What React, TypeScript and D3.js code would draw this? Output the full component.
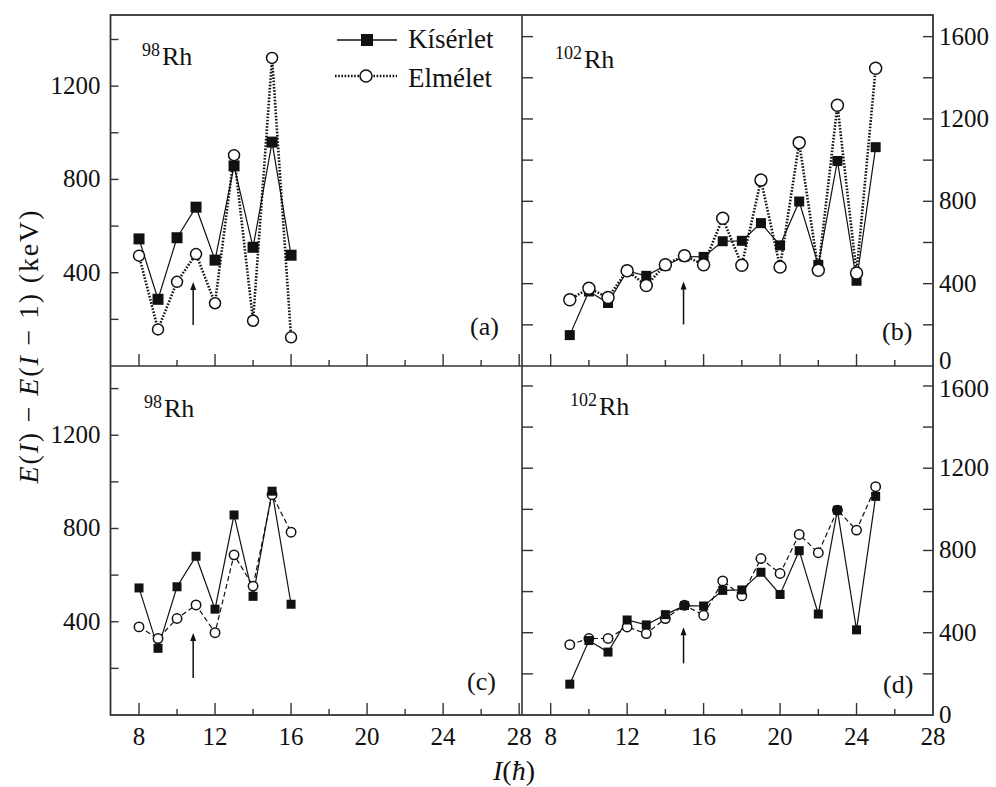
import React from "react";
import * as d3 from "d3";

// ---------- data ----------
const spins98 = [8, 9, 10, 11, 12, 13, 14, 15, 16];
const spins102 = [9, 10, 11, 12, 13, 14, 15, 16, 17, 18, 19, 20, 21, 22, 23, 24, 25];

const exp98 = [545, 286, 550, 681, 454, 858, 509, 960, 475];
const theoryA98 = [473, 157, 361, 480, 269, 904, 194, 1321, 123];
const theoryC98 = [378, 328, 414, 472, 353, 687, 553, 945, 784];

const exp102 = [150, 362, 306, 462, 438, 488, 532, 530, 606, 608, 694, 586, 799, 491, 996, 414, 1063];
const theoryB102 = [322, 378, 333, 463, 391, 492, 536, 492, 718, 489, 903, 481, 1085, 465, 1267, 452, 1446];
const theoryD102 = [342, 372, 372, 428, 396, 469, 534, 485, 652, 579, 761, 688, 878, 789, 996, 899, 1110];

const xTicksMajor = [8, 12, 16, 20, 24, 28];
const xTicksMinor = [10, 14, 18, 22, 26];
const yTicksLeft = [200, 400, 600, 800, 1000, 1200, 1400];
const yLabelsLeft = [400, 800, 1200];
const yTicksRight = [200, 400, 600, 800, 1000, 1200, 1400, 1600];
const yLabelsRight = [0, 400, 800, 1200, 1600];

const legendLabels = ["Kísérlet", "Elmélet"];

// arrows: [spin, from, to]
const arrowA = [10.85, 176, 360];
const arrowB = [14.95, 202, 411];
const arrowC = [10.85, 159, 352];
const arrowD = [14.95, 251, 427];

const FONT = "Liberation Serif";
const INK = "#111";
const FRAME = "#333";
const fs = (size: number) => ({ fontFamily: FONT, fontSize: size + "px" });

type PanelProps = {
  x0: number; x1: number; y0: number; y1: number;
  xDomain: [number, number]; yDomain: [number, number];
  spins: number[]; exp: number[]; theory: number[];
  top: boolean; side: "left" | "right";
  sq: number; cr: number;
  nucleus: string; nx: number; ny: number;
  letter: string; lx: number; ly: number;
  arrow: number[];
  showXLabels: boolean;
};

function Panel(p: PanelProps) {
  const x = d3.scaleLinear().domain(p.xDomain).range([p.x0, p.x1]);
  const y = d3.scaleLinear().domain(p.yDomain).range([p.y1, p.y0]);
  const line = d3.line<number>().x((_, i) => x(p.spins[i])).y((v) => y(v));
  const expPath = line(p.exp) || "";
  const thPath = line(p.theory) || "";
  const yTicks = p.side === "left" ? yTicksLeft : yTicksRight;
  const yLabels = p.side === "left" ? yLabelsLeft : yLabelsRight;
  const ax = x(p.arrow[0]);
  const ayFrom = y(p.arrow[1]);
  const ayTo = y(p.arrow[2]);
  const labelOffset = (t: number) => {
    if (p.side === "right" && p.top && t === 0) return 3;
    if (p.side === "right" && !p.top && t === 1600) return 11;
    return 8;
  };

  const squares = p.exp.map((v, i) => (
    <rect key={"s" + i} x={x(p.spins[i]) - p.sq / 2} y={y(v) - p.sq / 2} width={p.sq} height={p.sq} fill={INK} />
  ));
  const circles = p.theory.map((v, i) => (
    <circle key={"c" + i} cx={x(p.spins[i])} cy={y(v)} r={p.cr} fill="#fff" stroke={INK} strokeWidth={1.5} />
  ));

  return (
    <g>
      {xTicksMajor.filter((t) => x(t) < p.x1 - 2).map((t) => (
        <line key={"xm" + t} x1={x(t)} x2={x(t)} y1={p.y1} y2={p.y1 - 12} stroke={FRAME} strokeWidth={1.4} />
      ))}
      {xTicksMinor.map((t) => (
        <line key={"xn" + t} x1={x(t)} x2={x(t)} y1={p.y1} y2={p.y1 - 6} stroke={FRAME} strokeWidth={1.4} />
      ))}
      {yTicks.map((t) => (
        <line key={"yl" + t} x1={p.x0} x2={p.x0 + (p.side === "left" ? 8 : 11)} y1={y(t)} y2={y(t)} stroke={FRAME} strokeWidth={1.4} />
      ))}
      {p.side === "right" && yTicks.map((t) => (
        <line key={"yr" + t} x1={p.x1} x2={p.x1 - 10} y1={y(t)} y2={y(t)} stroke={FRAME} strokeWidth={1.4} />
      ))}
      {yLabels.map((t) =>
        p.side === "left" ? (
          <text key={"ytl" + t} x={p.x0 - 10} y={y(t) + 8} textAnchor="end" style={fs(25)} fill={INK}>{t}</text>
        ) : (
          <text key={"ytr" + t} x={p.x1 + 6} y={y(t) + labelOffset(t)} textAnchor="start" style={fs(25)} fill={INK}>{t}</text>
        )
      )}
      {p.showXLabels && xTicksMajor.map((t) => (
        <text key={"xt" + t} x={x(t)} y={p.y1 + 30} textAnchor="middle" style={fs(25)} fill={INK}>{t}</text>
      ))}
      <path d={expPath} fill="none" stroke={INK} strokeWidth={1.2} />
      {p.top ? (
        <path d={thPath} fill="none" stroke={INK} strokeWidth={2.6} strokeDasharray="1.6,1.6" />
      ) : (
        <path d={thPath} fill="none" stroke={INK} strokeWidth={1.2} strokeDasharray="5,3" />
      )}
      {p.top ? <g>{squares}{circles}</g> : <g>{circles}{squares}</g>}
      <line x1={ax} x2={ax} y1={ayFrom} y2={ayTo + 4} stroke={INK} strokeWidth={1.5} />
      <path d={`M${ax},${ayTo} L${ax - 3},${ayTo + 8} L${ax + 3},${ayTo + 8} Z`} fill={INK} />
      <text x={p.nx} y={p.ny} style={fs(26)} fill={INK}>
        <tspan style={fs(18)} dy={-9}>{p.nucleus}</tspan>
        <tspan dy={9} dx={2}>Rh</tspan>
      </text>
      <text x={p.lx} y={p.ly} style={fs(26)} fill={INK}>{p.letter}</text>
    </g>
  );
}

export default function App() {
  const L = 110.5, M = 522, R = 933, T = 15, H = 366, B = 715;
  const lgX = 337;
  return (
    <svg width={996} height={787} style={{ position: "absolute", left: 0, top: 0, background: "#fff", fontFamily: FONT }}>
      <rect x={0} y={0} width={996} height={787} fill="#fff" />
      <Panel x0={L} x1={M} y0={T} y1={H} xDomain={[6.5, 28.15]} yDomain={[0, 1505]}
        spins={spins98} exp={exp98} theory={theoryA98} top={true} side="left" sq={11} cr={5.5}
        nucleus="98" nx={142} ny={65} letter="(a)" lx={470} ly={335} arrow={arrowA} showXLabels={false} />
      <Panel x0={M} x1={R} y0={T} y1={H} xDomain={[6.5, 28]} yDomain={[0, 1705]}
        spins={spins102} exp={exp102} theory={theoryB102} top={true} side="right" sq={10} cr={6}
        nucleus="102" nx={555} ny={68} letter="(b)" lx={882} ly={340} arrow={arrowB} showXLabels={false} />
      <Panel x0={L} x1={M} y0={H} y1={B} xDomain={[6.5, 28.15]} yDomain={[0, 1497]}
        spins={spins98} exp={exp98} theory={theoryC98} top={false} side="left" sq={9} cr={4.7}
        nucleus="98" nx={144} ny={417} letter="(c)" lx={467} ly={690} arrow={arrowC} showXLabels={true} />
      <Panel x0={M} x1={R} y0={H} y1={B} xDomain={[6.5, 28]} yDomain={[0, 1697]}
        spins={spins102} exp={exp102} theory={theoryD102} top={false} side="right" sq={9} cr={4.7}
        nucleus="102" nx={570} ny={415} letter="(d)" lx={883} ly={693} arrow={arrowD} showXLabels={true} />
      <rect x={L} y={T} width={R - L} height={B - T} fill="none" stroke={FRAME} strokeWidth={1.8} />
      <line x1={M} x2={M} y1={T} y2={B} stroke={FRAME} strokeWidth={1.6} />
      <line x1={L} x2={R} y1={H} y2={H} stroke={FRAME} strokeWidth={1.6} />
      <line x1={lgX} x2={lgX + 60} y1={40} y2={40} stroke={INK} strokeWidth={1.4} />
      <rect x={lgX + 30 - 6} y={40 - 6} width={12} height={12} fill={INK} />
      <text x={408} y={48} style={fs(27)} fill={INK}>{legendLabels[0]}</text>
      <line x1={lgX - 2} x2={lgX + 60} y1={76} y2={76} stroke={INK} strokeWidth={2.6} strokeDasharray="1.6,1.6" />
      <circle cx={lgX + 29} cy={76} r={6} fill="#fff" stroke={INK} strokeWidth={1.5} />
      <text x={408} y={87} style={fs(27)} fill={INK}>{legendLabels[1]}</text>
      <text transform="translate(38,347) rotate(-90)" textAnchor="middle" style={fs(28)} fill={INK}
        textLength={273} lengthAdjust="spacing">
        <tspan fontStyle="italic">E</tspan>(<tspan fontStyle="italic">I</tspan>) − <tspan fontStyle="italic">E</tspan>(<tspan fontStyle="italic">I</tspan> − 1) (keV)
      </text>
      <text x={493} y={780} style={fs(28)} fill={INK}>
        <tspan fontStyle="italic">I</tspan>(<tspan fontStyle="italic">ħ</tspan>)
      </text>
    </svg>
  );
}
